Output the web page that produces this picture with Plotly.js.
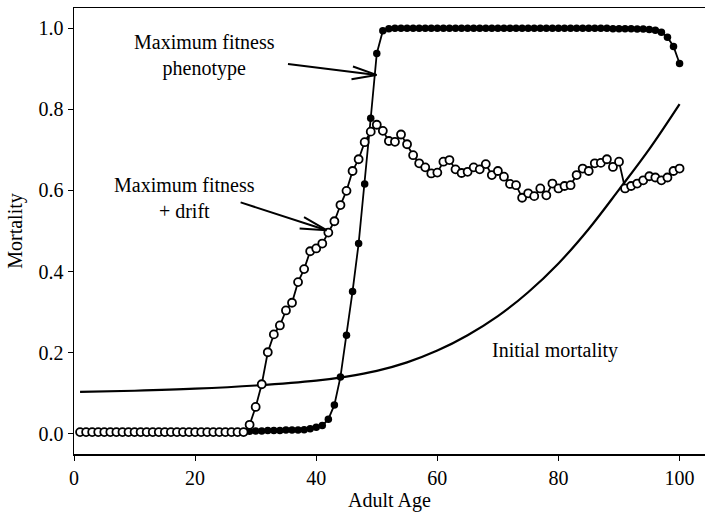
<!DOCTYPE html>
<html>
<head>
<meta charset="utf-8">
<script src="https://cdn.plot.ly/plotly-3.0.1.min.js"></script>
<style>html,body{margin:0;padding:0;background:#fff}#chart{width:705px;height:512px}</style>
</head>
<body>
<div id="chart"></div>
<script>
// Adult ages 1..100
var ages = [];
for (var i = 1; i <= 100; i++) ages.push(i);

// Maximum fitness phenotype (filled circles)
var maxFitness = [
  0.005,0.005,0.005,0.005,0.005,0.005,0.005,0.005,0.005,0.005,
  0.005,0.005,0.005,0.005,0.005,0.005,0.005,0.005,0.005,0.005,
  0.005,0.005,0.005,0.005,0.005,0.005,0.005,0.005,0.006,0.007,
  0.007,0.008,0.008,0.008,0.009,0.009,0.009,0.010,0.012,0.016,
  0.020,0.036,0.071,0.140,0.243,0.351,0.469,0.616,0.778,0.938,
  0.994,0.999,1.000,1.000,1.000,1.000,1.000,1.000,1.000,1.000,
  1.000,1.000,1.000,1.000,1.000,1.000,1.000,1.000,1.000,1.000,
  1.000,1.000,1.000,1.000,1.000,1.000,1.000,1.000,1.000,1.000,
  1.000,1.000,1.000,1.000,1.000,1.000,1.000,1.000,0.999,0.999,
  0.999,0.999,0.998,0.998,0.997,0.995,0.990,0.978,0.955,0.913
];

// Maximum fitness + drift (open circles)
var maxFitnessDrift = [
  0.004,0.004,0.004,0.004,0.004,0.004,0.004,0.004,0.004,0.004,
  0.004,0.004,0.004,0.004,0.004,0.004,0.004,0.004,0.004,0.004,
  0.004,0.004,0.004,0.004,0.004,0.004,0.004,0.004,0.022,0.066,
  0.122,0.201,0.245,0.267,0.304,0.323,0.374,0.406,0.450,0.457,
  0.469,0.496,0.524,0.564,0.599,0.648,0.677,0.719,0.745,0.762,
  0.747,0.722,0.720,0.738,0.714,0.687,0.667,0.657,0.642,0.644,
  0.671,0.675,0.652,0.643,0.646,0.657,0.652,0.665,0.638,0.648,
  0.634,0.616,0.613,0.582,0.593,0.586,0.605,0.588,0.617,0.605,
  0.611,0.613,0.638,0.654,0.648,0.667,0.668,0.677,0.658,0.671,
  0.605,0.611,0.617,0.625,0.635,0.632,0.625,0.632,0.648,0.654
];

// Initial mortality curve (read at selected ages)
var initAges = [1, 10, 20, 30, 40, 45, 50, 55, 60, 65, 70, 75, 80, 85, 90, 95, 100];
var initMortality = [0.103, 0.106, 0.111, 0.119, 0.131, 0.141, 0.155, 0.176, 0.205, 0.243, 0.290, 0.349, 0.420, 0.505, 0.602, 0.702, 0.813];

var FONT = 'Liberation Serif, Times New Roman, serif';
var FS = 20;

var traces = [
  {x: initAges, y: initMortality, mode: 'lines', type: 'scatter',
   line: {color: '#000', width: 2.2, shape: 'spline', smoothing: 1}, hoverinfo: 'skip'},
  {x: ages, y: maxFitness, mode: 'lines+markers', type: 'scatter',
   line: {color: '#000', width: 1.8},
   marker: {symbol: 'circle', size: 7.5, color: '#000', line: {color: '#000', width: 0}}},
  {x: ages, y: maxFitnessDrift, mode: 'lines+markers', type: 'scatter',
   line: {color: '#000', width: 1.8},
   marker: {symbol: 'circle', size: 8, color: '#fff', line: {color: '#000', width: 1.8}}}
];

function arrowParts(xTip, yTip, tail, barb1, barb2) {
  var base = {x: xTip, y: yTip, xref: 'x', yref: 'y', text: '', showarrow: true,
              arrowhead: 0, arrowwidth: 2, arrowcolor: '#000', standoff: 0, startstandoff: 0,
              axref: 'pixel', ayref: 'pixel'};
  return [tail, barb1, barb2].map(function (o) {
    return Object.assign({}, base, {ax: o[0], ay: o[1]});
  });
}

var annotations = [
  {x: 21.5, y: 0.933, xref: 'x', yref: 'y', text: 'Maximum fitness<br>phenotype', showarrow: false,
   font: {family: FONT, size: FS, color: '#000'}},
  {x: 18.3, y: 0.582, xref: 'x', yref: 'y', text: 'Maximum fitness<br>+ drift', showarrow: false,
   font: {family: FONT, size: FS, color: '#000'}},
  {x: 79.4, y: 0.206, xref: 'x', yref: 'y', text: 'Initial mortality', showarrow: false,
   font: {family: FONT, size: FS, color: '#000'}}
].concat(
  arrowParts(49.95, 0.885, [-90, -11], [-25, -9], [-26.5, 4.5]),
  arrowParts(41.7, 0.502, [-87.4, -28.3], [-24, -14], [-28.4, -1.7])
);

var layout = {
  width: 705, height: 512,
  margin: {l: 74, r: 0, t: 8, b: 58},
  paper_bgcolor: '#fff', plot_bgcolor: '#fff',
  showlegend: false,
  font: {family: FONT, size: FS, color: '#000'},
  xaxis: {
    range: [0, 104.2], showgrid: false, zeroline: false,
    showline: true, linecolor: '#000', linewidth: 1.5, mirror: true,
    ticks: 'outside', ticklen: 5, tickwidth: 1, tickcolor: '#000',
    tickvals: [0, 20, 40, 60, 80, 100], ticktext: ['0', '20', '40', '60', '80', '100'],
    tickfont: {family: FONT, size: FS},
    title: {text: 'Adult Age', font: {family: FONT, size: FS}, standoff: 0}
  },
  yaxis: {
    range: [-0.05, 1.05], showgrid: false, zeroline: false,
    showline: true, linecolor: '#000', linewidth: 1.5,
    ticks: 'outside', ticklen: 5, tickwidth: 1, tickcolor: '#000',
    tickvals: [0, 0.2, 0.4, 0.6, 0.8, 1.0], ticktext: ['0.0', '0.2', '0.4', '0.6', '0.8', '1.0'],
    tickfont: {family: FONT, size: FS},
    title: {text: 'Mortality', font: {family: FONT, size: FS}, standoff: 10}
  },
  annotations: annotations
};

Plotly.newPlot('chart', traces, layout, {staticPlot: true, displayModeBar: false});
</script>
</body>
</html>
